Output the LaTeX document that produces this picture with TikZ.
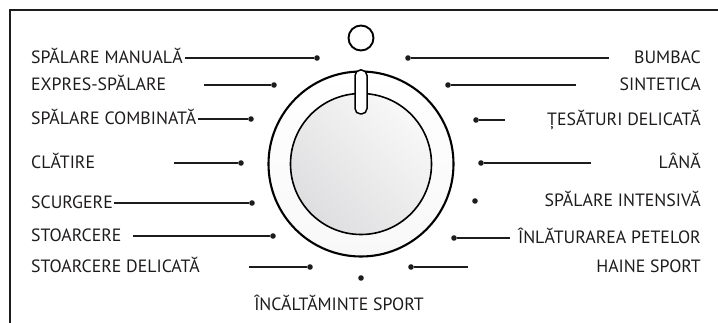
\documentclass[tikz,border=0pt]{standalone}
\usepackage{fontspec}
\setmainfont{PT Sans}
\usepackage{tikz}
\usetikzlibrary{positioning}
\definecolor{inkgray}{RGB}{30,27,28}
\definecolor{knobgray}{RGB}{222,222,224}
\definecolor{knoblight}{RGB}{248,248,248}

\begin{document}
\begin{tikzpicture}[
    x=1pt, y=-1pt,
    label/.style={
        inner sep=0pt,
        text=inkgray,
        font=\fontsize{17.8}{20}\selectfont
    },
    dot/.style={
        circle,
        fill=inkgray,
        inner sep=0pt,
        minimum size=5.6pt
    },
    lead/.style={
        draw=inkgray,
        line width=1.4pt
    }
]
\useasboundingbox (0,0) rectangle (718,323);

% frame
\draw[inkgray, line width=1.4pt] (718,10) -- (10,10) -- (10,323);

% dial
\draw[line width=2.1pt, top color=white, bottom color=knoblight] (361,164) circle (92.5);
\draw[line width=1.6pt, shading=axis, left color=knobgray, right color=knoblight, shading angle=135] (361,164) circle (70.5);
\draw[line width=1.5pt, fill=white, rounded corners=5.5pt] (355,70) rectangle (367,114);
\draw[line width=1.9pt] (361,38) circle (12.5);

% left programs
\node[label, anchor=base west] (manual) at (31,64) {SPĂLARE MANUALĂ};
\node[label, anchor=base west] (express) at (31,91) {EXPRES-SPĂLARE};
\node[label, anchor=base west] (combined) at (31,125) {SPĂLARE COMBINATĂ};
\node[label, anchor=base west] (rinse) at (31,169) {CLĂTIRE};
\node[label, anchor=base west] (drain) at (31,209) {SCURGERE};
\node[label, anchor=base west] (spin) at (31,242) {STOARCERE};
\node[label, anchor=base west] (softspin) at (31,273) {STOARCERE DELICATĂ};

\node[dot] (manualdot) at (317,58) {};
\node[dot] (expressdot) at (274,85) {};
\node[dot] (combineddot) at (251,119) {};
\node[dot] (rinsedot) at (241,163) {};
\node[dot] (draindot) at (252,203) {};
\node[dot] (spindot) at (273,236) {};
\node[dot] (softspindot) at (310,267) {};

\coordinate (manualend) at (185,58);
\coordinate (expressend) at (204,85);
\coordinate (combinedend) at (198,119);
\coordinate (rinseend) at (174,163);
\coordinate (drainend) at (114,203);
\coordinate (spinend) at (133,236);
\coordinate (softspinend) at (249,267);

\draw[lead] (manualend) -- (manualdot);
\draw[lead] (expressend) -- (expressdot);
\draw[lead] (combinedend) -- (combineddot);
\draw[lead] (rinseend) -- (rinsedot);
\draw[lead] (drainend) -- (draindot);
\draw[lead] (spinend) -- (spindot);
\draw[lead] (softspinend) -- (softspindot);

% bottom program
\node[dot] (shoesdot) at (361,278) {};
\node[label, anchor=base] (shoes) at (339,311) {ÎNCĂLTĂMINTE SPORT};

% right programs
\node[label, anchor=base east] (cotton) at (701,64) {BUMBAC};
\node[label, anchor=base east] (synthetic) at (701,91) {SINTETICA};
\node[label, anchor=base east] (delicate) at (701,126) {ȚESĂTURI DELICATĂ};
\node[label, anchor=base east] (wool) at (701,169) {LÂNĂ};
\node[label, anchor=base east] (intensive) at (701,207) {SPĂLARE INTENSIVĂ};
\node[label, anchor=base east] (stains) at (701,244) {ÎNLĂTURAREA PETELOR};
\node[label, anchor=base east] (sport) at (701,273) {HAINE SPORT};

\node[dot] (cottondot) at (408,58) {};
\node[dot] (syntheticdot) at (448,85) {};
\node[dot] (delicatedot) at (476,120) {};
\node[dot] (wooldot) at (481,163) {};
\node[dot] (intensivedot) at (475,201) {};
\node[dot] (stainsdot) at (454,238) {};
\node[dot] (sportdot) at (411,267) {};

\coordinate (cottonend) at (609,58);
\coordinate (syntheticend) at (576,85);
\coordinate (delicateend) at (505,120);
\coordinate (woolend) at (591,163);
\coordinate (stainsend) at (510,238);
\coordinate (sportend) at (468,267);

\draw[lead] (cottondot) -- (cottonend);
\draw[lead] (syntheticdot) -- (syntheticend);
\draw[lead] (delicatedot) -- (delicateend);
\draw[lead] (wooldot) -- (woolend);
\draw[lead] (stainsdot) -- (stainsend);
\draw[lead] (sportdot) -- (sportend);
\end{tikzpicture}
\end{document}
